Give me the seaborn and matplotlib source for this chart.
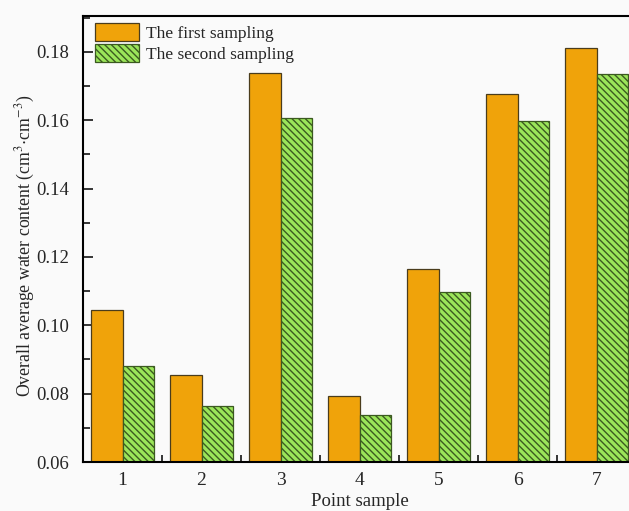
import numpy as np
import pandas as pd
import matplotlib
matplotlib.use('Agg')
import matplotlib.pyplot as plt
from matplotlib.ticker import MultipleLocator, FixedLocator
import seaborn as sns

# veriler
points = ['1', '2', '3', '4', '5', '6', '7']
first_sampling = [0.1046, 0.0856, 0.1739, 0.0794, 0.1164, 0.1677, 0.1812]
second_sampling = [0.0880, 0.0763, 0.1608, 0.0737, 0.1097, 0.1598, 0.1734]
series_names = ['The first sampling', 'The second sampling']

sns.set_style('ticks')
plt.rcParams['font.family'] = ['Liberation Serif', 'DejaVu Serif']
plt.rcParams['mathtext.fontset'] = 'stix'
plt.rcParams['hatch.linewidth'] = 1.0

df = pd.DataFrame({
    'Point': points * 2,
    'Value': first_sampling + second_sampling,
    'Series': [series_names[0]] * len(points) + [series_names[1]] * len(points),
})

fig = plt.figure(figsize=(6.29, 5.11), dpi=100)
fig.patch.set_facecolor('#fafafa')
ax = fig.add_axes([83 / 629, 49 / 511, 553 / 629, 446 / 511])
ax.set_facecolor('#fafafa')

sns.barplot(data=df, x='Point', y='Value', hue='Series',
            palette=['#f0a30a', '#9be55a'], width=0.8, saturation=1,
            edgecolor='#4a3c1c', linewidth=0.9, ax=ax, legend=False)

# ikinci seri: tarali
for bar in ax.containers[1]:
    bar.set_hatch('\\\\\\\\\\')
    bar.set_edgecolor('#3b5a20')

ax.set_ylim(0.06, 0.1905)
ax.set_xlim(-0.5, 6.5)
ax.yaxis.set_major_locator(MultipleLocator(0.02))
ax.yaxis.set_minor_locator(MultipleLocator(0.01))
ax.yaxis.set_major_formatter(matplotlib.ticker.FormatStrFormatter('%.2f'))
ax.xaxis.set_minor_locator(FixedLocator(np.arange(0.5, 6, 1.0)))

ax.tick_params(axis='y', which='major', direction='in', length=7, width=1.3, labelsize=13.5, pad=10)
ax.tick_params(axis='y', which='minor', direction='in', length=5, width=1.3)
ax.tick_params(axis='x', which='major', length=0, labelsize=14, pad=7)
ax.tick_params(axis='x', which='minor', direction='in', length=5, width=1.3)

for side in ['left', 'bottom', 'top']:
    ax.spines[side].set_linewidth(1.5)
    ax.spines[side].set_color('black')
ax.spines['right'].set_visible(False)

ax.set_xlabel('Point sample', fontsize=13.5, labelpad=3)
ax.set_ylabel('Overall average water content (cm$^{3}$$\\cdot$cm$^{-3}$)', fontsize=12.8)
ax.yaxis.set_label_coords(-0.083, 0.484)

ax.legend(handles=[ax.containers[0], ax.containers[1]], labels=series_names,
          loc='upper left', frameon=False, fontsize=12.5,
          handlelength=2.5, handleheight=1.25, handletextpad=0.4,
          labelspacing=0.1, borderaxespad=0.0, bbox_to_anchor=(0.01, 1.0))

plt.savefig('out.png', dpi=100, facecolor=fig.get_facecolor())
